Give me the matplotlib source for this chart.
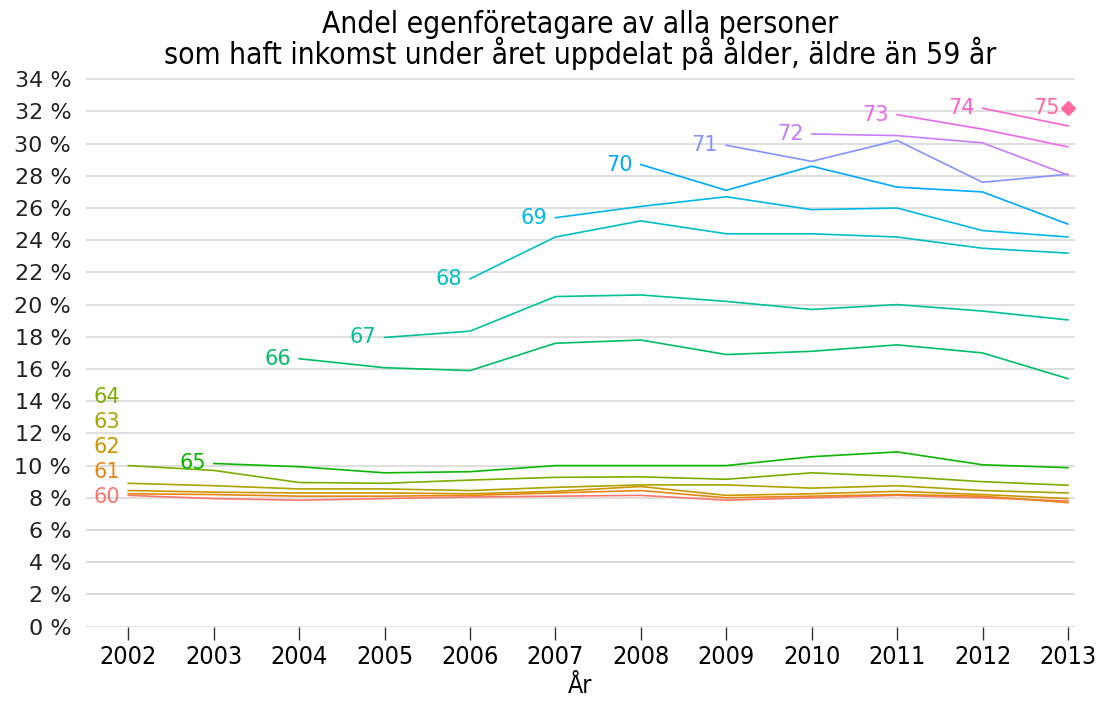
import numpy as np
import matplotlib
matplotlib.use('Agg')
import matplotlib.pyplot as plt
from matplotlib.ticker import FuncFormatter, MultipleLocator
from matplotlib.transforms import offset_copy

years = list(range(2002, 2014))
ages = list(range(60, 76))
start_year = [2002, 2002, 2002, 2002, 2002, 2003, 2004, 2005,
              2006, 2007, 2008, 2009, 2010, 2011, 2012, 2013]

# share in percent, from the start year on
age60 = [8.15, 7.95, 7.85, 7.95, 8.05, 8.1, 8.15, 7.85, 8.0, 8.15, 8.0, 7.8]
age61 = [8.25, 8.2, 8.1, 8.1, 8.15, 8.3, 8.45, 8.0, 8.1, 8.2, 8.1, 7.7]
age62 = [8.45, 8.35, 8.3, 8.3, 8.25, 8.4, 8.7, 8.15, 8.25, 8.4, 8.2, 7.95]
age63 = [8.9, 8.75, 8.55, 8.55, 8.45, 8.65, 8.8, 8.8, 8.6, 8.75, 8.45, 8.3]
age64 = [10.0, 9.7, 8.95, 8.9, 9.1, 9.27, 9.3, 9.15, 9.55, 9.33, 9.0, 8.78]
age65 = [10.13, 9.93, 9.55, 9.62, 10.0, 10.0, 10.0, 10.55, 10.85, 10.05, 9.87]
age66 = [16.64, 16.08, 15.9, 17.6, 17.8, 16.9, 17.1, 17.5, 17.0, 15.4]
age67 = [17.96, 18.35, 20.5, 20.6, 20.2, 19.7, 20.0, 19.6, 19.05]
age68 = [21.6, 24.2, 25.2, 24.4, 24.4, 24.2, 23.5, 23.2]
age69 = [25.4, 26.1, 26.7, 25.9, 26.0, 24.6, 24.2]
age70 = [28.7, 27.1, 28.6, 27.3, 27.0, 25.0]
age71 = [29.9, 28.9, 30.2, 27.6, 28.1]
age72 = [30.6, 30.5, 30.05, 28.05]
age73 = [31.8, 30.9, 29.8]
age74 = [32.2, 31.1]
age75 = [32.2]

series = [age60, age61, age62, age63, age64, age65, age66, age67,
          age68, age69, age70, age71, age72, age73, age74, age75]

# labels for the youngest ages are spread out to avoid overlap
label_y = {60: 8.05, 61: 9.6, 62: 11.15, 63: 12.7, 64: 14.25}


def hcl_color(h, c=100, l=65):
    hr = np.radians(h)
    u, v = c * np.cos(hr), c * np.sin(hr)
    Xn, Yn, Zn = 95.047, 100.0, 108.883
    den = Xn + 15 * Yn + 3 * Zn
    un, vn = 4 * Xn / den, 9 * Yn / den
    Y = Yn * ((l + 16) / 116) ** 3
    up, vp = u / (13 * l) + un, v / (13 * l) + vn
    X = Y * 9 * up / (4 * vp)
    Z = Y * (12 - 3 * up - 20 * vp) / (4 * vp)
    M = np.array([[3.2404542, -1.5371385, -0.4985314],
                  [-0.9692660, 1.8760108, 0.0415560],
                  [0.0556434, -0.2040259, 1.0572252]])
    rgb = M @ (np.array([X, Y, Z]) / 100)
    rgb = np.clip(rgb, 0, None)
    rgb = np.where(rgb <= 0.0031308, 12.92 * rgb, 1.055 * rgb ** (1 / 2.4) - 0.055)
    return tuple(np.clip(rgb, 0, 1))


colors = [hcl_color(15 + 360 / 16 * i) for i in range(16)]

fig = plt.figure(figsize=(11.08, 7.04), dpi=100)
ax = fig.add_axes([0.078, 0.11, 0.892, 0.79])

for age, start, vals, col in zip(ages, start_year, series, colors):
    xs = list(range(start, start + len(vals)))
    if len(vals) == 1:
        ax.plot(xs, vals, marker='D', ms=7, color=col, lw=0, zorder=3)
    else:
        ax.plot(xs, vals, color=col, lw=1.2, zorder=3)
    ty = label_y.get(age, vals[0])
    tr = offset_copy(ax.transData, fig=fig, x=-8, y=0, units='dots')
    ax.text(start, ty, str(age), color=col, fontsize=15, ha='right',
            va='center', transform=tr, zorder=4)

ax.set_xlim(2001.51, 2013.08)
ax.set_ylim(0, 34.55)
ax.yaxis.set_major_locator(MultipleLocator(2))
ax.yaxis.set_major_formatter(FuncFormatter(lambda v, p: f'{int(round(v))} %'))
ax.set_xticks(years)
ax.set_xticklabels([str(y) for y in years], fontsize=18, fontstretch='condensed')
for lab in ax.get_yticklabels():
    lab.set_fontsize(16)
    lab.set_color('#222222')

ax.grid(axis='y', color='#DCDCDC', lw=1.3)
ax.set_axisbelow(True)
for s in ax.spines.values():
    s.set_visible(False)
ax.tick_params(axis='y', length=0, pad=11)
ax.tick_params(axis='x', length=9, width=1, color='#333333', pad=4)

ax.set_xlabel('År', fontsize=18, fontstretch='condensed', labelpad=4)
ax.set_title('Andel egenföretagare av alla personer\n'
             'som haft inkomst under året uppdelat på ålder, äldre än 59 år',
             fontsize=21.5, fontstretch='condensed', linespacing=0.92, pad=3)

fig.savefig('out.png', dpi=100, facecolor='white')
